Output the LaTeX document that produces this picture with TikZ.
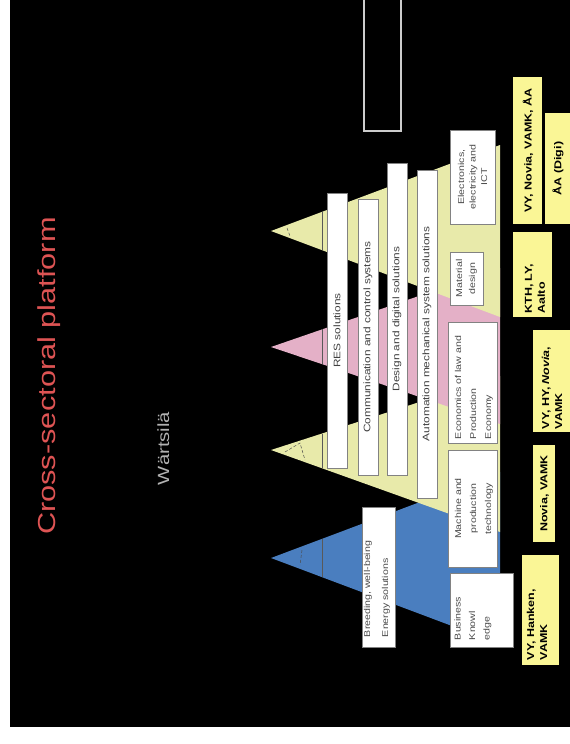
\documentclass[tikz,border=0pt]{standalone}
\usepackage{fontspec}
\setmainfont{Liberation Sans}[FakeStretch=1.25]
\usetikzlibrary{calc}
\definecolor{bluetri}{RGB}{74,126,191}
\definecolor{yeltri}{RGB}{232,234,170}
\definecolor{pinktri}{RGB}{228,176,199}
\definecolor{instyel}{RGB}{250,246,150}
\definecolor{titlered}{RGB}{222,84,84}
\definecolor{boxgray}{RGB}{130,130,130}

\begin{document}
\begin{tikzpicture}
		[x=1pt,y=-1pt,
		wbox/.style={draw=boxgray, fill=white, line width=0.9pt},
		ibox/.style={fill=instyel},
		tipline/.style={draw=black!65, line width=0.6pt},
		tipdash/.style={draw=black!70, densely dashed, line width=0.5pt},
		barlbl/.style={rotate=90, inner sep=0pt, text=black!75, font=\fontsize{9.5}{11}\selectfont},
		boxlbl/.style={rotate=90, inner sep=0pt, text=black!70},
		instlbl/.style={rotate=90, inner sep=0pt, font=\bfseries\fontsize{10}{13}\selectfont}]
		\useasboundingbox (0,0) rectangle (570,744);
		\fill[white] (0,0) rectangle (570,744);
		\fill[black] (10,0) rectangle (570,727);
		%-----title
		\node[rotate=90, anchor=base, text=titlered, font=\fontsize{24.6}{28}\selectfont] (title) at (55,376) {Cross-sectoral platform};
		\node[rotate=90, anchor=base, text=black!30, font=\fontsize{16.2}{18}\selectfont] (wart) at (169,448.5) {Wärtsilä};
		\draw[white!80!black, line width=1.6pt] (364,-3) rectangle (401,131);
		%-----pyramids
		\coordinate (B) at (271,558);  \coordinate (B-u) at (500,472);  \coordinate (B-l) at (500,644);
		\coordinate (Y) at (271,450);  \coordinate (Y-u) at (500,376);  \coordinate (Y-l) at (500,532);
		\coordinate (P) at (271,347);  \coordinate (P-u) at (500,268);  \coordinate (P-l) at (500,424);
		\coordinate (T) at (271,231);  \coordinate (T-u) at (500,145);  \coordinate (T-l) at (500,317);
		\fill[bluetri] (B) -- (B-u) -- (B-l) -- cycle;
		\fill[yeltri] (Y) -- (Y-u) -- (Y-l) -- cycle;
		\fill[pinktri] (P) -- (P-u) -- (P-l) -- cycle;
		\fill[yeltri] (T) -- (T-u) -- (T-l) -- cycle;
		\foreach \t in {B,Y,P,T}
		\draw[tipline] ($(\t)!0.223!(\t-u)$) -- ($(\t)!0.223!(\t-l)$);
		\draw[tipdash] (302,550) -- (300,565);
		\draw[tipdash] (285,452) -- (300,443) -- (305,460);
		\draw[tipdash] (287,228) -- (290,236);
		%-----bars
		\foreach \n/\xa/\xb/\ya/\yb/\txt in {res/327/347/193/468/RES solutions,
			com/358/378/199/475/Communication and control systems,
			dig/387/407/163/475/Design and digital solutions,
			aut/417/437/170/498/Automation mechanical system solutions}
		{
			\draw[wbox] (\xa,\ya) rectangle (\xb,\yb);
			\node[barlbl] (\n) at ({(\xa+\xb)/2},{(\ya+\yb)/2}) {\txt};
		}
		%-----base boxes
		\draw[wbox] (450,130) rectangle (495,224);
		\node[boxlbl, align=center, font=\fontsize{8.5}{11.5}\selectfont] (elec) at (472.5,177) {Electronics,\\ electricity and\\ ICT};
		\draw[wbox] (450,252) rectangle (483,305);
		\node[boxlbl, align=center, font=\fontsize{8.5}{13}\selectfont] (mat) at (466.5,278.5) {Material\\ design};
		\draw[wbox] (448,322) rectangle (497,443);
		\node[boxlbl, align=left, text width=113pt, font=\fontsize{8.5}{15}\selectfont] (econ) at (474,382.5) {Economics of law and\\ Production\\ Economy};
		\draw[wbox] (448,450) rectangle (497,567);
		\node[boxlbl, align=center, font=\fontsize{8.5}{15}\selectfont] (mach) at (474,508.5) {Machine and\\ production\\ technology};
		\draw[wbox] (450,573) rectangle (513,647);
		\node[boxlbl, align=left, text width=60pt, font=\fontsize{8.5}{14.5}\selectfont] (bus) at (473,610) {Business\\ Knowl\\ edge};
		\draw[wbox] (362,507) rectangle (395,647);
		\node[boxlbl, align=left, text width=126pt, font=\fontsize{8.5}{18}\selectfont] (breed) at (377,574) {Breeding, well-being\\ Energy solutions};
		%-----partners
		\fill[ibox] (513,77) rectangle (542,224);
		\node[instlbl, align=center] (vyn) at (528,150.5) {VY, Novia, VAMK, ÅA};
		\fill[ibox] (545,113) rectangle (570,224);
		\node[instlbl, align=center] (digi) at (558,168.5) {ÅA (Digi)};
		\fill[ibox] (513,232) rectangle (552,317);
		\node[instlbl, align=left, text width=78pt] (kth) at (535,274.5) {KTH, LY,\\ Aalto};
		\fill[ibox] (533,330) rectangle (570,432);
		\node[instlbl, align=left, text width=96pt] (vyhy) at (552,381) {VY, HY, \textit{Novia},\\ VAMK};
		\fill[ibox] (533,445) rectangle (555,542);
		\node[instlbl, align=center] (novia) at (544.5,493.5) {Novia, VAMK};
		\fill[ibox] (522,555) rectangle (559,665);
		\node[instlbl, align=left, text width=100pt] (hank) at (537,610) {VY, Hanken,\\ VAMK};
\end{tikzpicture}
\end{document}
